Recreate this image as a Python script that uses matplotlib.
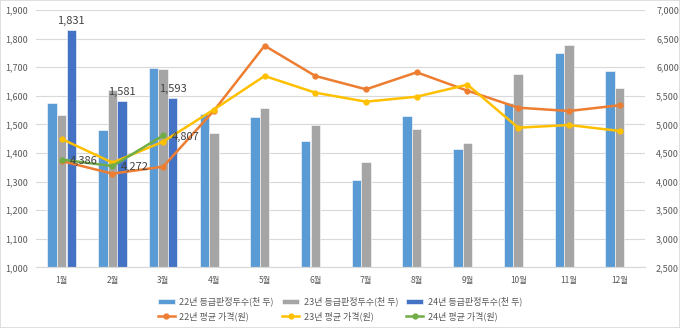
import numpy as np
import matplotlib
matplotlib.use("Agg")
import matplotlib.pyplot as plt
from matplotlib.patches import Rectangle

plt.rcParams['font.family'] = ['Noto Sans CJK KR', 'DejaVu Sans']

months = ['1월', '2월', '3월', '4월', '5월', '6월', '7월', '8월', '9월', '10월', '11월', '12월']

# 등급판정두수 (천 두)
heads_22 = [1575, 1480, 1698, 1537, 1525, 1441, 1306, 1530, 1415, 1574, 1751, 1688]
heads_23 = [1532, 1620, 1693, 1469, 1556, 1497, 1368, 1483, 1436, 1676, 1778, 1627]
heads_24 = [1831, 1581, 1593] + [np.nan] * 9

# 평균 가격 (원)
price_22 = [4360, 4140, 4262, 5240, 6376, 5847, 5614, 5911, 5590, 5293, 5235, 5335]
price_23 = [4746, 4332, 4699, 5260, 5847, 5555, 5398, 5485, 5695, 4943, 4990, 4886]
price_24 = [4386, 4272, 4807] + [np.nan] * 9

c_b22, c_b23, c_b24 = '#5B9BD5', '#A5A5A5', '#4472C4'
c_l22, c_l23, c_l24 = '#ED7D31', '#FFC000', '#70AD47'
txt = '#595959'
grid = '#D9D9D9'

fig = plt.figure(figsize=(6.8, 3.28), dpi=100)
fig.patches.append(Rectangle((0, 0), 1, 1, transform=fig.transFigure,
                             fill=False, edgecolor=grid, linewidth=1.2))
ax = fig.add_axes([0.0535, 0.1845, 0.895, 0.785])
ax2 = ax.twinx()

x = np.arange(len(months))
w = 0.185
b1 = ax.bar(x - 0.19, heads_22, w, color=c_b22, edgecolor='white', linewidth=0.4,
            label='22년 등급판정두수(천 두)')
b2 = ax.bar(x, heads_23, w, color=c_b23, edgecolor='white', linewidth=0.4,
            label='23년 등급판정두수(천 두)')
b3 = ax.bar(x + 0.19, heads_24, w, color=c_b24, edgecolor='white', linewidth=0.4,
            label='24년 등급판정두수(천 두)')

for xi, v in zip(x + 0.19, heads_24):
    if not np.isnan(v):
        ax.annotate(f'{v:,.0f}', (xi, v), xytext=(0, 3), textcoords='offset points',
                    ha='center', va='bottom', fontsize=8, color='#404040')

l1, = ax2.plot(x, price_22, color=c_l22, lw=1.8, marker='o', ms=3.5,
               label='22년 평균 가격(원)')
l2, = ax2.plot(x, price_23, color=c_l23, lw=1.8, marker='o', ms=3.5,
               label='23년 평균 가격(원)')
l3, = ax2.plot(x, price_24, color=c_l24, lw=1.8, marker='o', ms=3.5,
               label='24년 평균 가격(원)')

for xi, v in zip(x, price_24):
    if not np.isnan(v):
        ax2.annotate(f'{v:,.0f}', (xi, v), xytext=(6, -1), textcoords='offset points',
                     ha='left', va='center', fontsize=8, color='#404040')

ax.set_xlim(-0.5, len(months) - 0.5)
ax.set_ylim(1000, 1900)
ax2.set_ylim(2500, 7000)
ax.set_yticks(np.arange(1000, 1901, 100))
ax2.set_yticks(np.arange(2500, 7001, 500))
ax.set_yticklabels([f'{v:,}' for v in range(1000, 1901, 100)])
ax2.set_yticklabels([f'{v:,}' for v in range(2500, 7001, 500)])
ax.set_xticks(x)
ax.set_xticklabels(months)

ax.yaxis.grid(True, color=grid, linewidth=0.8)
ax.set_axisbelow(True)
for a in (ax, ax2):
    for s in ('top', 'left', 'right'):
        a.spines[s].set_visible(False)
    a.spines['bottom'].set_color(grid)
    a.tick_params(length=0, labelsize=6.5, colors=txt)
ax.tick_params(axis='y', pad=6)
ax2.tick_params(axis='y', pad=8)
ax.tick_params(axis='x', pad=6, labelsize=6)

# legend filled column by column, so interleave to get row order
handles = [b1, l1, b2, l2, b3, l3]
fig.legend(handles, [h.get_label() for h in handles], ncol=3,
           loc='center', bbox_to_anchor=(0.5, 0.058), frameon=False,
           fontsize=6.5, labelcolor=txt, handlelength=1.9, handleheight=0.5,
           columnspacing=0.9, handletextpad=0.5, labelspacing=0.55)

fig.savefig('out.png', dpi=100)
